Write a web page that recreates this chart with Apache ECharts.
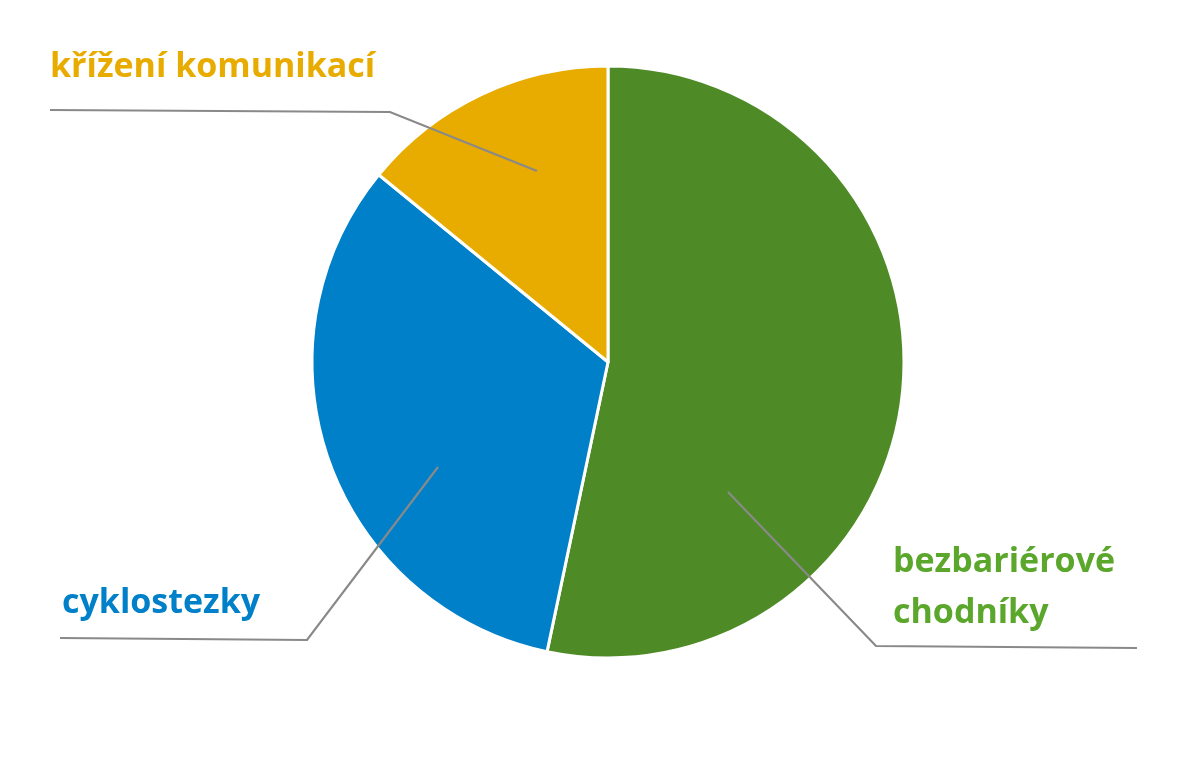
<!DOCTYPE html>
<html>
<head>
<meta charset="utf-8">
<script src="https://cdn.jsdelivr.net/npm/echarts@6/dist/echarts.min.js"></script>
<style>html,body{margin:0;padding:0;background:#fff}#c{width:1200px;height:775px}</style>
</head>
<body>
<div id="c"></div>
<script>
const categories = ['bezbariérové\nchodníky', 'cyklostezky', 'křížení komunikací'];
const values = [53.3, 32.6, 14.1];
const sliceColors = ['#4E8B26', '#0080C9', '#E8AC00'];
const labelColors = ['#5AA72C', '#0080C9', '#E8AC00'];

// label placement (annotation layout only)
const labelPlace = [
  { x: 893, y: 588, line: [[728, 492], [876, 646], [1137, 648]] },
  { x: 50, y: 603, line: [[438, 467], [307, 640], [60, 638]] },
  { x: 50, y: 67, line: [[537, 171], [390, 112], [50, 110]] }
];
labelPlace[1].x = 62;

const chart = echarts.init(document.getElementById('c'));
const base = {
  type: 'pie',
  center: [608, 362],
  radius: 296,
  startAngle: 90,
  clockwise: true,
  emphasis: { disabled: true },
  silent: true
};
chart.setOption({
  animation: false,
  series: [
    Object.assign({}, base, {
      z: 2,
      data: categories.map((n, i) => ({ name: n, value: values[i], itemStyle: { color: sliceColors[i] } })),
      itemStyle: { borderColor: '#fff', borderWidth: 3 },
      label: { show: false },
      labelLine: { show: false }
    }),
    Object.assign({}, base, {
      z: 5,
      data: categories.map((n, i) => ({
        name: n, value: values[i],
        itemStyle: { color: 'rgba(0,0,0,0)' },
        label: { color: labelColors[i] }
      })),
      itemStyle: { borderWidth: 0 },
      label: {
        show: true,
        formatter: '{b}',
        fontFamily: 'Open Sans',
        fontWeight: 'bold',
        fontSize: 34,
        lineHeight: 51
      },
      labelLine: { show: true, lineStyle: { color: '#898989', width: 2.2 } },
      labelLayout: function (p) {
        const L = labelPlace[p.dataIndex];
        return { x: L.x, y: L.y, align: 'left', verticalAlign: 'middle', labelLinePoints: L.line };
      }
    })
  ]
});
</script>
</body>
</html>
